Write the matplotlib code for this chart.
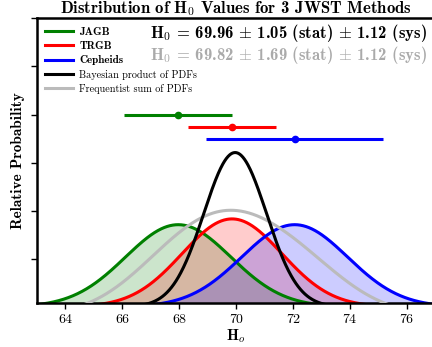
import numpy as np
import matplotlib
matplotlib.use('Agg')
import matplotlib.pyplot as plt

plt.rcParams['mathtext.fontset'] = 'cm'
plt.rcParams['font.family'] = 'cmr10'
plt.rcParams['axes.unicode_minus'] = False
plt.rcParams['axes.formatter.use_mathtext'] = True

# H0 values per method (stat sigma used for the PDFs, sys for the bars)
methods = ['JAGB', 'TRGB', 'Cepheids']
colors = ['green', 'red', 'blue']
h0 = [67.96, 69.85, 72.05]
stat_err = [1.85, 1.75, 1.86]
sys_err = [1.90, 1.54, 3.10]
peak = [1.71, 1.83, 1.71]
bar_y = [4.0, 3.75, 3.5]

# combined estimates
bayes_h0, bayes_sig, bayes_peak = 69.96, 1.10, 3.21
freq_scale, freq_base = 0.59, 0.17

x = np.linspace(62, 78, 800)

def gauss(mu, sig, amp):
    return amp * np.exp(-0.5 * ((x - mu) / sig) ** 2)

fig = plt.figure(figsize=(4.32, 3.47), dpi=100)
ax = fig.add_axes([0.0856, 0.128, 0.9227, 0.819])

pdfs = []
for m, c, mu, s, a in zip(methods, colors, h0, stat_err, peak):
    y = gauss(mu, s, a)
    pdfs.append(y)
    ax.fill_between(x, 0, y, color=c, alpha=0.2, lw=0)
    ax.plot(x, y, color=c, lw=2.2, label=m)

bayes = gauss(bayes_h0, bayes_sig, bayes_peak)
freq = freq_scale * np.sum(pdfs, axis=0) - freq_base
ax.plot(x, freq, color='#bbbbbb', lw=2.2, zorder=4)
ax.plot(x, bayes, color='black', lw=2.2, zorder=5, label='Bayesian product of PDFs')
# legend order: black before gray
h, l = ax.get_legend_handles_labels()
gray_line, = ax.plot([], [], color='#bbbbbb', lw=2.2)
h.append(gray_line)
l.append('Frequentist sum of PDFs')

for c, mu, e, yb in zip(colors, h0, sys_err, bar_y):
    ax.errorbar(mu, yb, xerr=e, fmt='o', color=c, ms=4.5, lw=2.2, capsize=0)

leg = ax.legend(h, l, loc='upper left', frameon=False, handlelength=2.8,
                handletextpad=0.6, labelspacing=0.42, borderaxespad=0.0,
                bbox_to_anchor=(0.01, 0.985), prop={'size': 7.3})
for i, t in enumerate(leg.get_texts()):
    if i < 3:
        t.set_fontfamily('cmb10')
        t.set_fontsize(8)

ax.text(0.978, 0.948, r'H$_0$ = 69.96 $\pm$ 1.05 (stat) $\pm$ 1.12 (sys)',
        transform=ax.transAxes, ha='right', va='center', fontsize=12.0,
        family='cmb10')
ax.text(0.978, 0.871, r'H$_0$ = 69.82 $\pm$ 1.69 (stat) $\pm$ 1.12 (sys)',
        transform=ax.transAxes, ha='right', va='center', fontsize=12.0,
        family='cmb10', color='#aaaaaa')

ax.set_xlim(63, 77)
ax.set_ylim(0.09, 6.0)
ax.set_xticks(np.arange(64, 77, 2))
ax.set_yticks(np.arange(1, 7))
ax.set_yticklabels([])
ax.tick_params(axis='x', labelsize=10, width=1, length=4)
ax.tick_params(axis='y', width=1, length=4)
for sp in ['left', 'bottom', 'top']:
    ax.spines[sp].set_linewidth(1.8)
ax.spines['right'].set_visible(False)

ax.set_xlabel(r'H$_o$', fontsize=11, family='cmb10', labelpad=1)
ax.set_ylabel('Relative Probability', fontsize=11, family='cmb10', labelpad=1)
ax.set_title(r'Distribution of H$_0$ Values for 3 JWST Methods', fontsize=12,
             family='cmb10', pad=4)

fig.savefig('out.png', dpi=100)
